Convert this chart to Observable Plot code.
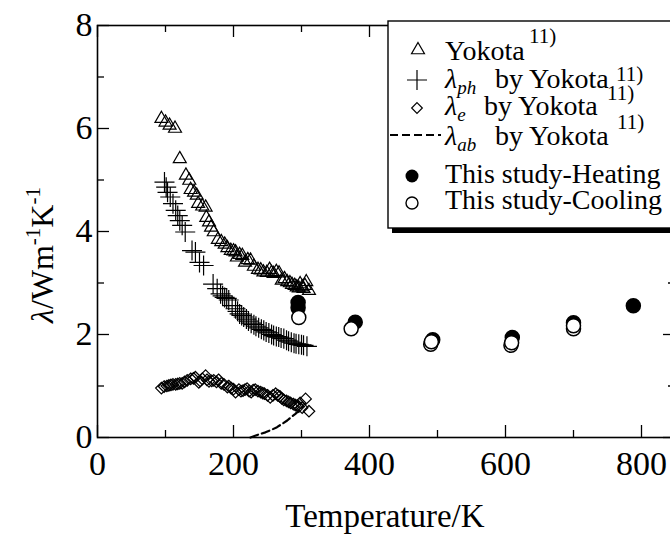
<!DOCTYPE html>
<html><head><meta charset="utf-8">
<script src="https://cdn.jsdelivr.net/npm/d3@7"></script>
<script src="https://cdn.jsdelivr.net/npm/@observablehq/plot@0.6"></script>
<style>
body{margin:0;background:#fff;}
#chart{width:670px;height:542px;overflow:hidden;}
</style>
</head><body><div id="chart"></div>
<script>
// ---------- data ----------
const yokotaT = [94,100,106,114,121,130,135,137,142,146,148,154,159,160,164,167,171,177,182,187,191,196,200,203,205,209,213,217,221,225,230,236,240,244,249,253,256,259,263,267,271,275,279,283,286,290,293,296,298,301,303,305,307,311];
const yokotaK = [6.19,6.12,6.06,6.00,5.41,5.09,4.99,4.81,4.76,4.70,4.54,4.49,4.47,4.27,4.18,4.08,3.99,3.84,3.80,3.75,3.68,3.63,3.62,3.60,3.50,3.55,3.53,3.40,3.45,3.44,3.32,3.26,3.25,3.21,3.20,3.26,3.20,3.18,3.22,3.19,3.05,3.08,3.02,3.00,2.97,2.95,2.92,2.90,2.98,2.92,2.89,2.95,3.02,2.85];

const phT = [98.5,101,103,107,111,115,118,121,124.5,129,139,144,150,156,170,176,181,184,187,190,193,198,203,206,209,212,215,219,222,226,230,233,237,241,244.5,248,252,256,259,263,266.5,270,274,278,281,285,289,292,296,300,303,308];
const phK = [4.96,4.86,4.76,4.67,4.54,4.41,4.31,4.21,4.12,3.99,3.63,3.60,3.40,3.34,2.98,2.89,2.79,2.75,2.72,2.70,2.67,2.56,2.50,2.45,2.40,2.37,2.34,2.30,2.26,2.22,2.19,2.16,2.13,2.10,2.08,2.05,2.03,2.00,1.98,1.96,1.95,1.93,1.92,1.89,1.87,1.85,1.83,1.82,1.81,1.80,1.79,1.77];

const eT = [94,98,102,105,108,111,115,118,121,124.5,128,132,137,141,144,149,151,154,159,161,164,168,171,175,178,182,186,191,193,196.5,200,203,208,211,214,217,220,223,226,229,232,236,240,243,245.5,250,254,258,262,265,268,271,274,278,281,284,288,291,294,296,298,301,306,311];
const eK = [0.96,0.99,1.00,1.01,1.02,1.03,1.03,1.04,1.05,1.05,1.08,1.11,1.14,1.15,1.17,1.07,1.10,1.14,1.20,1.12,1.09,1.10,1.11,1.08,1.12,1.05,1.03,0.98,1.00,0.96,0.94,0.88,0.93,0.90,0.91,0.93,0.95,0.90,0.88,0.92,0.93,0.90,0.88,0.86,0.85,0.82,0.78,0.82,0.85,0.82,0.80,0.76,0.73,0.71,0.69,0.67,0.65,0.63,0.62,0.60,0.67,0.58,0.75,0.51];

const abT = [225,235,247,256,264,272,279,285,291,297,302];
const abK = [0.00,0.05,0.10,0.15,0.20,0.27,0.33,0.40,0.46,0.53,0.60];

const heatT = [295,295,379,493,610,700,788];
const heatK = [2.62,2.52,2.24,1.90,1.94,2.23,2.56];
const coolT = [296,373,490,491,608,609,700,700];
const coolK = [2.33,2.11,1.81,1.86,1.79,1.84,2.11,2.17];

const xMajor = [0,200,400,600,800];
const xMinor = [100,300,500,700];
const yMajor = [0,2,4,6,8];
const yMinor = [1,3,5,7];

const legendLabels = ["Yokota","by Yokota","by Yokota","by Yokota","This study-Heating","This study-Cooling"];
const refMark = "11)";
const xTitle = "Temperature/K";

// ---------- layout ----------
const W = 670, H = 542, mL = 97, mT = 25, mB = 105, mR = -5;
const plotW = W - mL - mR, plotH = H - mT - mB;
const tMaj = 12, tMin = 7;
const serif = "Liberation Serif";
const zip = (xs, ys) => xs.map((x, i) => ({x, y: ys[i]}));
const num = d => d;

const plot = Plot.plot({
  width: W, height: H,
  marginLeft: mL, marginRight: mR, marginTop: mT, marginBottom: mB,
  style: {fontFamily: serif, fontSize: "34px", color: "black", background: "white", overflow: "visible"},
  x: {domain: [0, 850], ticks: xMajor, tickSize: 0, tickPadding: 13, label: null},
  y: {domain: [0, 8], ticks: yMajor, tickSize: 0, tickPadding: 5, label: null},
  marks: [
    Plot.ruleX(xMajor, {x: num, insetTop: plotH - tMaj, strokeWidth: 1.3}),
    Plot.ruleX(xMinor, {x: num, insetTop: plotH - tMin, strokeWidth: 1.3}),
    Plot.ruleX(xMajor, {x: num, insetBottom: plotH - tMaj, strokeWidth: 1.3}),
    Plot.ruleX(xMinor, {x: num, insetBottom: plotH - tMin, strokeWidth: 1.3}),
    Plot.ruleY(yMajor, {y: num, insetRight: plotW - tMaj, strokeWidth: 1.3}),
    Plot.ruleY(yMinor, {y: num, insetRight: plotW - tMin, strokeWidth: 1.3}),
    Plot.ruleY(yMajor, {y: num, insetLeft: plotW - tMaj, strokeWidth: 1.3}),
    Plot.ruleY(yMinor, {y: num, insetLeft: plotW - tMin, strokeWidth: 1.3}),
    Plot.frame({stroke: "black", strokeWidth: 1.6}),
    Plot.line(zip(abT, abK), {x: "x", y: "y", stroke: "black", strokeWidth: 2.2, strokeDasharray: "8,4"}),
    Plot.dot(zip(eT, eK), {x: "x", y: "y", symbol: "diamond2", r: 5.2, stroke: "black", strokeWidth: 1.2, fill: "none"}),
    Plot.dot(zip(phT, phK), {x: "x", y: "y", symbol: "plus", r: 6.5, stroke: "black", strokeWidth: 1.2}),
    Plot.dot(zip(yokotaT, yokotaK), {x: "x", y: "y", symbol: "triangle", r: 4.8, stroke: "black", strokeWidth: 1.2, fill: "none"}),
    Plot.dot(zip(heatT, heatK), {x: "x", y: "y", r: 7, fill: "black", stroke: "black"}),
    Plot.dot(zip(coolT, coolK), {x: "x", y: "y", r: 7, fill: "white", stroke: "black", strokeWidth: 1.5})
  ]
});
document.getElementById("chart").append(plot);

// ---------- titles & legend ----------
const svg = d3.select(plot);

svg.append("text").attr("x", 385).attr("y", 527).attr("text-anchor", "middle")
  .attr("font-family", serif).attr("font-size", 33).attr("fill", "black").text(xTitle);

const yt = svg.append("text").attr("transform", "translate(53,255) rotate(-90)")
  .attr("text-anchor", "middle").attr("font-family", serif).attr("font-size", 32).attr("fill", "black");
yt.append("tspan").attr("font-style", "italic").text("λ");
yt.append("tspan").text("/Wm");
yt.append("tspan").attr("font-size", 21).attr("dy", -13).text("-1");
yt.append("tspan").attr("dy", 13).text("K");
yt.append("tspan").attr("font-size", 21).attr("dy", -13).text("-1");

const lg = svg.append("g").attr("font-family", serif).attr("fill", "black").attr("text-anchor", "start");
lg.append("rect").attr("x", 392).attr("y", 26).attr("width", 330).attr("height", 207).attr("fill", "black");
lg.append("rect").attr("x", 388).attr("y", 21).attr("width", 330).attr("height", 207)
  .attr("fill", "white").attr("stroke", "black").attr("stroke-width", 1.4);

const sym = (type, r) => d3.symbol(type, Math.PI * r * r)();
lg.append("path").attr("d", sym(d3.symbolTriangle, 4.8)).attr("transform", "translate(418,50)")
  .attr("fill", "none").attr("stroke", "black").attr("stroke-width", 1.2);
lg.append("path").attr("d", sym(d3.symbolPlus, 6.5)).attr("transform", "translate(417,80)")
  .attr("fill", "none").attr("stroke", "black").attr("stroke-width", 1.2);
lg.append("path").attr("d", sym(d3.symbolDiamond2, 4.8)).attr("transform", "translate(417,108)")
  .attr("fill", "none").attr("stroke", "black").attr("stroke-width", 1.2);
lg.append("line").attr("x1", 390).attr("x2", 441).attr("y1", 135).attr("y2", 135)
  .attr("stroke", "black").attr("stroke-width", 2.2).attr("stroke-dasharray", "8,4");
lg.append("circle").attr("cx", 412).attr("cy", 176).attr("r", 6.5).attr("fill", "black");
lg.append("circle").attr("cx", 412).attr("cy", 203).attr("r", 6).attr("fill", "white")
  .attr("stroke", "black").attr("stroke-width", 1.4);

function row(y, sub, byX, label, supX, supY) {
  const t = lg.append("text").attr("x", 445).attr("y", y).attr("font-size", 28);
  if (sub !== null) {
    t.append("tspan").attr("font-style", "italic").text("λ");
    t.append("tspan").attr("font-style", "italic").attr("font-size", 19).attr("dy", 6).text(sub);
    t.append("tspan").attr("x", byX).attr("dy", -6).text(label);
  } else {
    t.text(label);
  }
  if (supX !== null) {
    lg.append("text").attr("x", supX).attr("y", supY).attr("font-size", 21).text(refMark);
  }
}
row(60, null, null, legendLabels[0], 529, 43);
row(88, "ph", 495, legendLabels[1], 616, 81);
row(115, "e", 484, legendLabels[2], 607, 100);
row(145, "ab", 495, legendLabels[3], 617, 129);
row(183, null, null, legendLabels[4], null, null);
row(209, null, null, legendLabels[5], null, null);
</script>
</body></html>
